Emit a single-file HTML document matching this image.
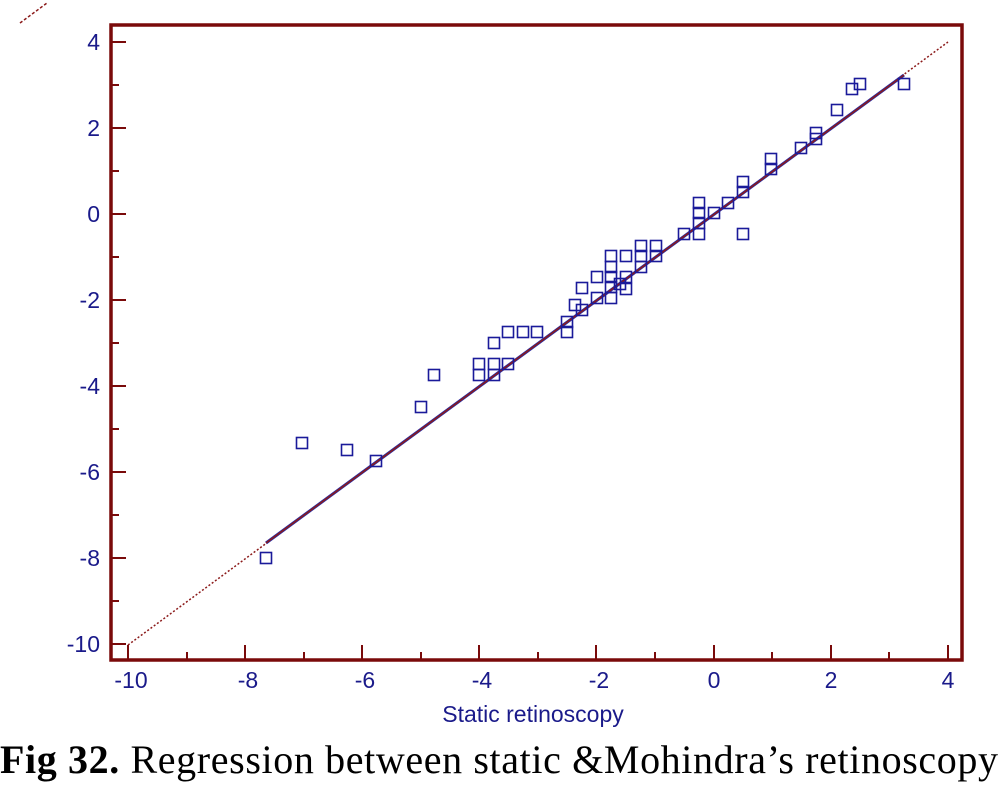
<!DOCTYPE html>
<html><head><style>
body{margin:0;background:#fff;width:1000px;height:784px;overflow:hidden}
</style></head><body>
<svg width="1000" height="784" xmlns="http://www.w3.org/2000/svg">
<line x1="20" y1="23" x2="47" y2="3" stroke="#8b1a1a" stroke-width="1.5" stroke-dasharray="3,2"/>
<g stroke="#7a0a0a" stroke-width="2">
<line x1="128" y1="660" x2="128" y2="645"/><line x1="187" y1="660" x2="187" y2="652"/>
<line x1="245" y1="660" x2="245" y2="645"/><line x1="304" y1="660" x2="304" y2="652"/>
<line x1="362" y1="660" x2="362" y2="645"/><line x1="421" y1="660" x2="421" y2="652"/>
<line x1="479" y1="660" x2="479" y2="645"/><line x1="538" y1="660" x2="538" y2="652"/>
<line x1="596" y1="660" x2="596" y2="645"/><line x1="655" y1="660" x2="655" y2="652"/>
<line x1="714" y1="660" x2="714" y2="645"/><line x1="772" y1="660" x2="772" y2="652"/>
<line x1="831" y1="660" x2="831" y2="645"/><line x1="889" y1="660" x2="889" y2="652"/>
<line x1="948" y1="660" x2="948" y2="645"/>
<line x1="111" y1="42" x2="126" y2="42"/><line x1="111" y1="85" x2="119" y2="85"/>
<line x1="111" y1="128" x2="126" y2="128"/><line x1="111" y1="171" x2="119" y2="171"/>
<line x1="111" y1="214" x2="126" y2="214"/><line x1="111" y1="257" x2="119" y2="257"/>
<line x1="111" y1="300" x2="126" y2="300"/><line x1="111" y1="343" x2="119" y2="343"/>
<line x1="111" y1="386" x2="126" y2="386"/><line x1="111" y1="429" x2="119" y2="429"/>
<line x1="111" y1="472" x2="126" y2="472"/><line x1="111" y1="515" x2="119" y2="515"/>
<line x1="111" y1="558" x2="126" y2="558"/><line x1="111" y1="601" x2="119" y2="601"/>
<line x1="111" y1="644" x2="126" y2="644"/>
</g>
<rect x="111" y="25" width="851" height="635" fill="none" stroke="#7a0a0a" stroke-width="3.5"/>
<line x1="128" y1="645" x2="948" y2="42" stroke="#8b1a1a" stroke-width="1.5" stroke-dasharray="2,2"/>
<line x1="266" y1="543" x2="904" y2="75" stroke="#2a2aa0" stroke-width="3"/>
<line x1="266" y1="543" x2="904" y2="75" stroke="#8b1a1a" stroke-width="1.5"/>
<g fill="none" stroke="#1a1a9a" stroke-width="1.6" transform="translate(-5.5,-5.5)">
<rect x="904" y="84" width="11" height="11"/><rect x="860" y="84" width="11" height="11"/>
<rect x="852" y="89" width="11" height="11"/><rect x="837" y="110" width="11" height="11"/>
<rect x="816" y="133" width="11" height="11"/><rect x="816" y="139" width="11" height="11"/>
<rect x="801" y="148" width="11" height="11"/><rect x="771" y="159" width="11" height="11"/>
<rect x="771" y="169" width="11" height="11"/><rect x="743" y="182" width="11" height="11"/>
<rect x="743" y="192" width="11" height="11"/><rect x="743" y="234" width="11" height="11"/>
<rect x="728" y="203" width="11" height="11"/><rect x="714" y="213" width="11" height="11"/>
<rect x="699" y="203" width="11" height="11"/><rect x="699" y="213" width="11" height="11"/>
<rect x="699" y="223" width="11" height="11"/><rect x="699" y="234" width="11" height="11"/>
<rect x="684" y="234" width="11" height="11"/><rect x="656" y="246" width="11" height="11"/>
<rect x="656" y="256" width="11" height="11"/><rect x="641" y="246" width="11" height="11"/>
<rect x="641" y="256" width="11" height="11"/><rect x="641" y="267" width="11" height="11"/>
<rect x="626" y="256" width="11" height="11"/><rect x="626" y="277" width="11" height="11"/>
<rect x="626" y="289" width="11" height="11"/><rect x="620" y="284" width="11" height="11"/>
<rect x="611" y="256" width="11" height="11"/><rect x="611" y="267" width="11" height="11"/>
<rect x="611" y="277" width="11" height="11"/><rect x="611" y="287" width="11" height="11"/>
<rect x="611" y="298" width="11" height="11"/><rect x="597" y="277" width="11" height="11"/>
<rect x="597" y="298" width="11" height="11"/><rect x="582" y="288" width="11" height="11"/>
<rect x="582" y="310" width="11" height="11"/><rect x="575" y="305" width="11" height="11"/>
<rect x="567" y="322" width="11" height="11"/><rect x="567" y="332" width="11" height="11"/>
<rect x="537" y="332" width="11" height="11"/><rect x="523" y="332" width="11" height="11"/>
<rect x="508" y="332" width="11" height="11"/><rect x="508" y="364" width="11" height="11"/>
<rect x="494" y="343" width="11" height="11"/><rect x="494" y="364" width="11" height="11"/>
<rect x="494" y="375" width="11" height="11"/><rect x="479" y="364" width="11" height="11"/>
<rect x="479" y="375" width="11" height="11"/><rect x="434" y="375" width="11" height="11"/>
<rect x="421" y="407" width="11" height="11"/><rect x="376" y="461" width="11" height="11"/>
<rect x="347" y="450" width="11" height="11"/><rect x="302" y="443" width="11" height="11"/>
<rect x="266" y="558" width="11" height="11"/>
</g>
<g font-family="Liberation Sans, sans-serif" font-size="23" fill="#1a1a8a">
<g text-anchor="end">
<text x="100" y="50">4</text><text x="100" y="136">2</text><text x="100" y="222">0</text>
<text x="100" y="308">-2</text><text x="100" y="394">-4</text><text x="100" y="480">-6</text>
<text x="100" y="566">-8</text><text x="100" y="652">-10</text></g>
<g text-anchor="middle">
<text x="131" y="688">-10</text><text x="248" y="688">-8</text><text x="365" y="688">-6</text>
<text x="482" y="688">-4</text><text x="599" y="688">-2</text><text x="714" y="688">0</text>
<text x="831" y="688">2</text><text x="948" y="688">4</text>
<text x="533" y="722" font-size="23">Static retinoscopy</text></g>
</g>
<text x="0" y="773" font-family="Liberation Serif, serif" font-size="40" fill="#000" textLength="998"><tspan font-weight="bold">Fig 32.</tspan> Regression between static &amp;Mohindra’s retinoscopy</text>
</svg>
</body></html>
